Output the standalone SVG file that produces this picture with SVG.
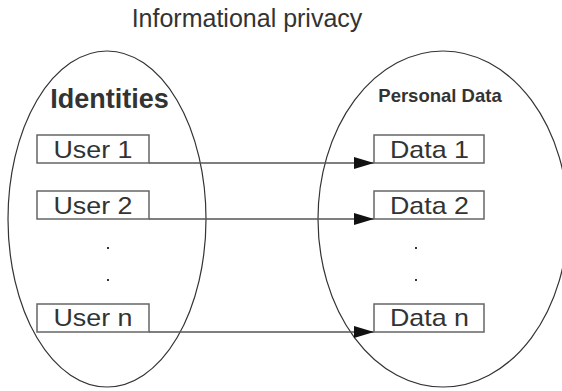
<svg xmlns="http://www.w3.org/2000/svg" width="562" height="391" viewBox="0 0 562 391">
<style>
.ell{fill:none;stroke:#333;stroke-width:1.2}
.box{fill:#fff;stroke:#666;stroke-width:1.5}
.lbl{font-family:"Liberation Sans",Arial,sans-serif;font-size:24px;fill:#333;text-anchor:middle}
.conn{stroke:#555;stroke-width:1.5;fill:none}
.dot{fill:#333}
</style>
<defs>
<marker id="arr" markerWidth="20" markerHeight="12" refX="20" refY="6" orient="auto" markerUnits="userSpaceOnUse">
<path d="M0,0 L20,6 L0,12 Z" fill="#111"/>
</marker>
</defs>
<rect width="562" height="391" fill="#fff"/>
<text x="247" y="27" font-family="Liberation Sans, Arial, sans-serif" font-size="25" fill="#333" text-anchor="middle">Informational privacy</text>
<g id="identities">
<ellipse class="ell" cx="107" cy="219" rx="99" ry="168"/>
<text x="109.5" y="108" font-family="Liberation Sans, Arial, sans-serif" font-size="27" font-weight="bold" fill="#333" text-anchor="middle">Identities</text>
</g>
<g id="personal-data">
<ellipse class="ell" cx="443" cy="219" rx="125" ry="168"/>
<text x="440" y="102" font-family="Liberation Sans, Arial, sans-serif" font-size="18.5" font-weight="bold" fill="#333" text-anchor="middle">Personal Data</text>
</g>
<g id="connectors">
<line class="conn" x1="149" y1="163" x2="374" y2="163" marker-end="url(#arr)"/>
<line class="conn" x1="149" y1="219" x2="374" y2="219" marker-end="url(#arr)"/>
<line class="conn" x1="149" y1="332" x2="374" y2="332" marker-end="url(#arr)"/>
</g>
<g id="user1"><rect class="box" x="37" y="135" width="112" height="28"/><text class="lbl" x="93" y="158" textLength="79" lengthAdjust="spacingAndGlyphs">User 1</text></g>
<g id="user2"><rect class="box" x="37" y="191" width="112" height="28"/><text class="lbl" x="93" y="214" textLength="79" lengthAdjust="spacingAndGlyphs">User 2</text></g>
<g id="usern"><rect class="box" x="37" y="304" width="112" height="28"/><text class="lbl" x="93" y="326" textLength="79" lengthAdjust="spacingAndGlyphs">User n</text></g>
<g id="data1"><rect class="box" x="374" y="135" width="110" height="28"/><text class="lbl" x="429.5" y="158" textLength="79" lengthAdjust="spacingAndGlyphs">Data 1</text></g>
<g id="data2"><rect class="box" x="374" y="191" width="110" height="28"/><text class="lbl" x="429.5" y="214" textLength="79" lengthAdjust="spacingAndGlyphs">Data 2</text></g>
<g id="datan"><rect class="box" x="374" y="304" width="110" height="28"/><text class="lbl" x="429.5" y="326" textLength="79" lengthAdjust="spacingAndGlyphs">Data n</text></g>
<g id="dots">
<rect class="dot" x="107" y="247" width="2" height="2"/>
<rect class="dot" x="107" y="279" width="2" height="2"/>
<rect class="dot" x="415" y="247" width="2" height="2"/>
<rect class="dot" x="415" y="279" width="2" height="2"/>
</g>
</svg>
